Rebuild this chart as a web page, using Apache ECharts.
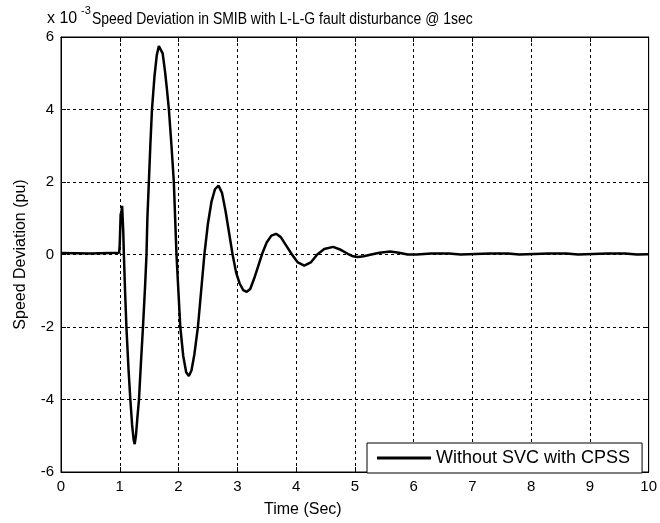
<!DOCTYPE html>
<html>
<head>
<meta charset="utf-8">
<script src="https://cdn.jsdelivr.net/npm/echarts@6/dist/echarts.min.js"></script>
<style>
  html, body { margin: 0; padding: 0; background: #fff; }
  #main { width: 660px; height: 523px; }
</style>
</head>
<body>
<div id="main"></div>
<script>
// time axis (s) and speed deviation (x 1e-3 pu)
const timeSec = [0, 0.5, 0.99, 1.0, 1.01, 1.015, 1.03, 1.04, 1.05, 1.06, 1.07, 1.09, 1.113, 1.15, 1.18, 1.21, 1.235, 1.254, 1.275, 1.30, 1.327, 1.36, 1.395, 1.43, 1.455, 1.47, 1.495, 1.52, 1.548, 1.59, 1.63, 1.665, 1.695, 1.73, 1.77, 1.80, 1.836, 1.88, 1.92, 1.965, 2.03, 2.08, 2.13, 2.175, 2.22, 2.27, 2.33, 2.385, 2.44, 2.50, 2.56, 2.62, 2.68, 2.74, 2.80, 2.86, 2.92, 2.98, 3.04, 3.10, 3.16, 3.22, 3.29, 3.36, 3.43, 3.50, 3.58, 3.66, 3.74, 3.83, 3.93, 4.03, 4.14, 4.25, 4.36, 4.48, 4.63, 4.76, 4.88, 4.97, 5.05, 5.15, 5.28, 5.42, 5.6, 5.75, 5.9, 6.05, 6.3, 6.6, 6.8, 7.3, 7.6, 7.8, 8.3, 8.6, 8.8, 9.3, 9.6, 9.8, 10];
const speedDev = [0.04, 0.03, 0.05, 0.3, 0.35, 1.1, 1.2, 1.34, 1.3, 0.6, 0, -1.0, -2.0, -3.2, -4.0, -4.7, -5.1, -5.23, -5.0, -4.5, -4.0, -3.0, -2.0, -0.9, 0, 1.0, 2.0, 3.0, 4.0, 4.9, 5.5, 5.75, 5.78, 5.55, 5.05, 4.6, 4.0, 3.0, 2.0, 0, -2.0, -2.8, -3.25, -3.35, -3.2, -2.75, -2.0, -1.0, 0, 0.85, 1.45, 1.8, 1.9, 1.7, 1.2, 0.6, 0, -0.5, -0.8, -0.98, -1.03, -0.95, -0.65, -0.3, 0.05, 0.33, 0.52, 0.57, 0.48, 0.25, 0, -0.22, -0.31, -0.22, 0, 0.15, 0.21, 0.13, 0.02, -0.05, -0.07, -0.05, 0, 0.05, 0.08, 0.05, 0, 0, 0.03, 0.03, 0, 0.03, 0.03, 0, 0.03, 0.03, 0, 0.03, 0.03, 0, 0.01];
const seriesName = 'Without SVC with CPSS';
const titleText = 'Speed Deviation in SMIB with L-L-G fault disturbance @ 1sec';

const font = "'Liberation Sans', Arial, sans-serif";
const points = timeSec.map((t, i) => [t, speedDev[i]]);

const gridLine = { show: true, lineStyle: { color: '#000', type: [3, 3], width: 1 } };
const boxAxisLine = { show: true, onZero: false, lineStyle: { color: '#000', width: 1 } };
const inTick = { show: true, inside: true, length: 5, lineStyle: { color: '#000' } };

let options = {
    animation: false,
    backgroundColor: '#fff',
    // title and exponent label, squeezed a bit to match the narrow original font
    graphic: [
        { type: 'text', left: 47, top: 11, style: { text: 'x 10', font: '16px ' + font, fill: '#000' } },
        { type: 'text', left: 81, top: 5, style: { text: '-3', font: '11px ' + font, fill: '#000' } },
        { type: 'text', x: 92, y: 11, scaleX: 0.82, style: { text: titleText, font: '17px ' + font, fill: '#000' } }
    ],
    grid: { left: 61, right: 8, top: 37, bottom: 48, show: true, borderColor: '#000', borderWidth: 1 },
    legend: {
        left: 367, top: 443,
        padding: [6, 12, 6, 10],
        itemWidth: 54, itemHeight: 3,
        borderColor: '#000', borderWidth: 1, borderRadius: 0,
        backgroundColor: '#fff',
        textStyle: { fontFamily: font, fontSize: 18, color: '#000' },
        data: [{ name: seriesName, icon: 'rect' }]
    },
    xAxis: [
        {
            type: 'value', min: 0, max: 10, interval: 1,
            name: 'Time (Sec)', nameLocation: 'middle', nameGap: 30,
            nameTextStyle: { fontFamily: font, fontSize: 16, color: '#000', padding: [0, 104, 0, 0] },
            axisLine: boxAxisLine,
            axisTick: inTick,
            axisLabel: { fontFamily: font, fontSize: 15, color: '#000', margin: 7 },
            splitLine: gridLine
        },
        {
            type: 'value', min: 0, max: 10, interval: 1, position: 'top',
            axisLine: boxAxisLine, axisTick: inTick,
            axisLabel: { show: false }, splitLine: { show: false }
        }
    ],
    yAxis: [
        {
            type: 'value', min: -6, max: 6, interval: 2,
            name: 'Speed Deviation (pu)', nameLocation: 'middle', nameGap: 32, nameRotate: 90,
            nameTextStyle: { fontFamily: font, fontSize: 16, color: '#000' },
            axisLine: boxAxisLine,
            axisTick: inTick,
            axisLabel: { fontFamily: font, fontSize: 15, color: '#000', margin: 7 },
            splitLine: gridLine
        },
        {
            type: 'value', min: -6, max: 6, interval: 2, position: 'right',
            axisLine: boxAxisLine, axisTick: inTick,
            axisLabel: { show: false }, splitLine: { show: false }
        }
    ],
    series: [{
        name: seriesName,
        type: 'line',
        data: points,
        symbol: 'none',
        smooth: false,
        lineStyle: { color: '#000', width: 2.5 },
        itemStyle: { color: '#000' }
    }]
};

let myChart = echarts.init(document.getElementById('main'));
myChart.setOption(options);
</script>
</body>
</html>
